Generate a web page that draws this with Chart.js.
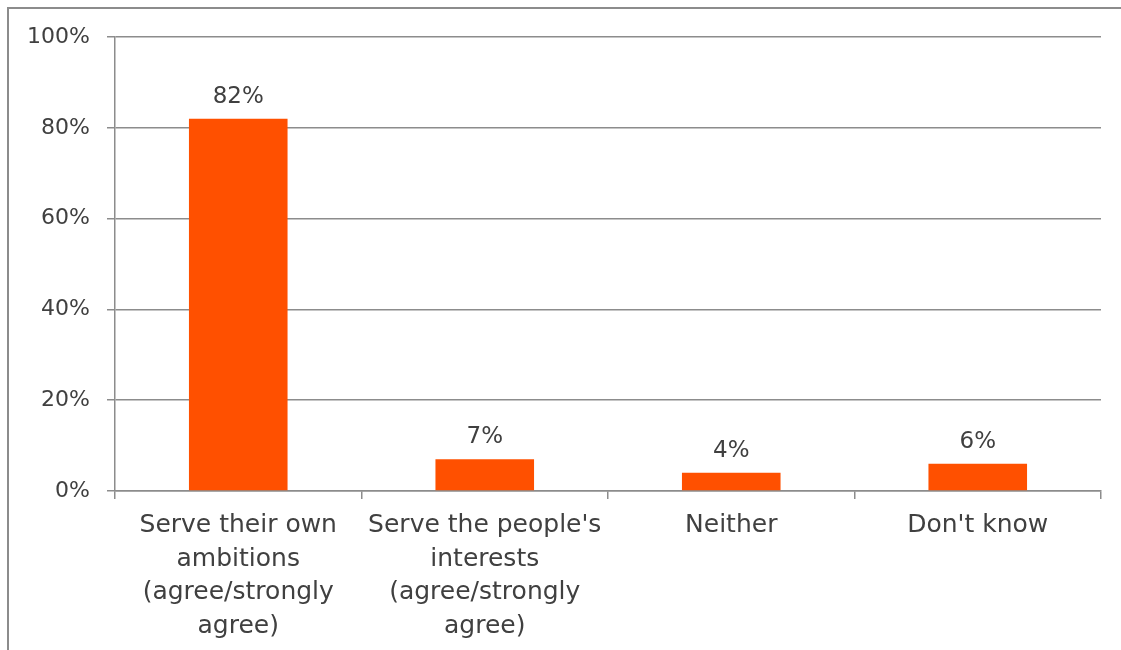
<!DOCTYPE html>
<html>

<head>
  <title>Politicians survey</title>
  <script src="https://cdn.jsdelivr.net/npm/chart.js"></script>
  <style>
    html, body { margin: 0; padding: 0; background: #fff; }
    #wrap { width: 1121px; height: 650px; position: relative; }
  </style>
</head>

<body>
  <div id="wrap"><canvas id="myChart"></canvas></div>
  <script>
    var categories = [
      ['Serve their own', 'ambitions', '(agree/strongly', 'agree)'],
      ["Serve the people's", 'interests', '(agree/strongly', 'agree)'],
      'Neither',
      "Don't know"
    ];
    var values = [82, 7, 4, 6];
    var yTicks = [0, 20, 40, 60, 80, 100];

    var FONT = '"DejaVu Sans", sans-serif';
    var TEXT = '#404040';
    var LINE = '#8c8c8c';

    // outer frame along the top and left edge
    var framePlugin = {
      id: 'frame',
      beforeDraw: function (chart) {
        var c = chart.ctx;
        c.save();
        c.strokeStyle = LINE;
        c.lineWidth = 2;
        c.beginPath();
        c.moveTo(8, chart.height);
        c.lineTo(8, 8);
        c.lineTo(chart.width, 8);
        c.stroke();
        c.restore();
      }
    };

    // value labels above each bar
    var valueLabels = {
      id: 'valueLabels',
      afterDatasetsDraw: function (chart) {
        var c = chart.ctx;
        var meta = chart.getDatasetMeta(0);
        c.save();
        c.fillStyle = TEXT;
        c.font = '23px ' + FONT;
        c.textAlign = 'center';
        c.textBaseline = 'alphabetic';
        meta.data.forEach(function (bar, i) {
          c.fillText(values[i] + '%', bar.x, bar.y - 16);
        });
        c.restore();
      }
    };

    var ctx = document.getElementById('myChart').getContext('2d');
    var myChart = new Chart(ctx, {
      type: 'bar',
      data: {
        labels: categories,
        datasets: [{
          data: values,
          backgroundColor: '#ff5000',
          barPercentage: 0.4,
          categoryPercentage: 1
        }]
      },
      options: {
        responsive: true,
        maintainAspectRatio: false,
        animation: false,
        layout: { padding: { top: 37, right: 20, left: 0, bottom: 0 } },
        plugins: {
          legend: { display: false },
          tooltip: { enabled: false }
        },
        scales: {
          y: {
            min: 0,
            max: 100,
            afterFit: function (scale) { scale.width = 115; },
            afterBuildTicks: function (scale) {
              scale.ticks = yTicks.map(function (v) { return { value: v }; });
            },
            ticks: {
              color: TEXT,
              padding: 17,
              font: { family: FONT, size: 22 },
              callback: function (v) { return v + '%'; }
            },
            grid: { color: LINE, lineWidth: 1.5, tickLength: 8 },
            border: { color: LINE, width: 1.5 }
          },
          x: {
            afterFit: function (scale) { scale.height = 159; },
            ticks: {
              color: TEXT,
              padding: 10,
              maxRotation: 0,
              autoSkip: false,
              font: { family: FONT, size: 25, lineHeight: 1.34 }
            },
            grid: { drawOnChartArea: false, color: LINE, lineWidth: 1.5, tickLength: 8 },
            border: { color: LINE, width: 1.5 }
          }
        }
      },
      plugins: [framePlugin, valueLabels]
    });
  </script>
</body>

</html>
